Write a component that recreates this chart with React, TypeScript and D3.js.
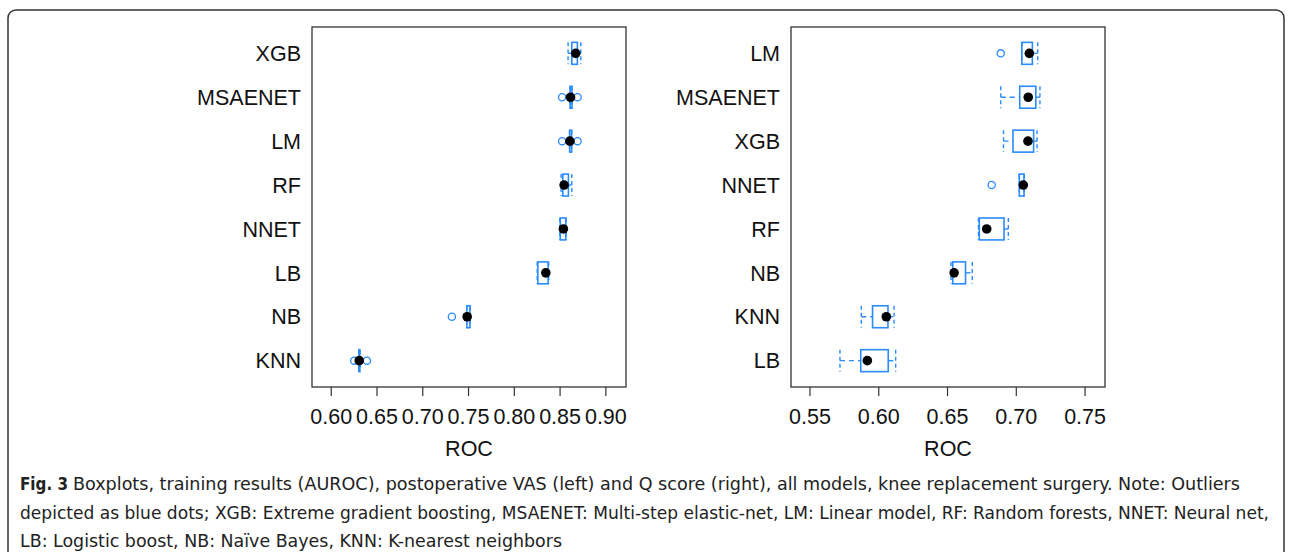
import React, { useEffect, useRef } from 'react';
import * as d3 from 'd3';

// Left panel: postoperative VAS (top to bottom)
const leftModels = ['XGB', 'MSAENET', 'LM', 'RF', 'NNET', 'LB', 'NB', 'KNN'];
const leftLow = [0.8587, 0.8608, 0.8603, 0.8511, 0.8497, 0.825, 0.748, 0.63];
const leftQ1 = [0.8628, 0.861, 0.8605, 0.853, 0.8502, 0.8257, 0.7482, 0.6302];
const leftMedian = [0.8671, 0.8614, 0.8607, 0.8544, 0.8536, 0.8344, 0.7485, 0.6306];
const leftQ3 = [0.8689, 0.863, 0.8625, 0.8591, 0.8562, 0.8369, 0.7515, 0.6312];
const leftHigh = [0.8726, 0.8632, 0.8628, 0.8628, 0.8566, 0.8375, 0.7517, 0.6315];
const leftOutliers = [[], [0.8522, 0.8691], [0.8522, 0.8691], [], [], [], [0.7318], [0.6251, 0.639]];
const leftTicks = [0.6, 0.65, 0.7, 0.75, 0.8, 0.85, 0.9];

// Right panel: Q score (top to bottom)
const rightModels = ['LM', 'MSAENET', 'XGB', 'NNET', 'RF', 'NB', 'KNN', 'LB'];
const rightLow = [0.704, 0.6887, 0.6907, 0.7022, 0.6725, 0.6525, 0.5873, 0.5718];
const rightQ1 = [0.704, 0.7025, 0.6976, 0.7022, 0.6731, 0.6538, 0.5955, 0.5869];
const rightMedian = [0.7095, 0.7087, 0.7085, 0.7051, 0.6785, 0.6548, 0.6055, 0.5917];
const rightQ3 = [0.7117, 0.7142, 0.7126, 0.7056, 0.6911, 0.6631, 0.6067, 0.6069];
const rightHigh = [0.7156, 0.7172, 0.7151, 0.7058, 0.6942, 0.668, 0.6111, 0.6123];
const rightOutliers = [[0.6887], [], [], [0.6821], [], [], [], []];
const rightTicks = [0.55, 0.6, 0.65, 0.7, 0.75];

const BLUE = '#2a8bff';
const FONT = '"Liberation Sans", Arial, sans-serif';

interface PanelSpec {
  models: string[];
  low: number[];
  q1: number[];
  median: number[];
  q3: number[];
  high: number[];
  outliers: number[][];
  ticks: number[];
  domain: [number, number];
  x0: number;
  x1: number;
}

const drawPanel = (svg: d3.Selection<SVGSVGElement, unknown, null, undefined>, p: PanelSpec) => {
  const top = 27;
  const bottom = 387;

  const x = d3.scaleLinear().domain(p.domain).range([p.x0, p.x1]);
  const y = d3.scalePoint<string>().domain(p.models).range([top, bottom]).padding(0.6);
  const boxH = y.step() * 0.5;

  const g = svg.append('g');

  // frame
  g.append('rect')
    .attr('x', p.x0).attr('y', top)
    .attr('width', p.x1 - p.x0).attr('height', bottom - top)
    .attr('fill', 'none').attr('stroke', '#333').attr('stroke-width', 1.3);

  // category labels
  g.selectAll('text.cat')
    .data(p.models)
    .join('text')
    .attr('class', 'cat')
    .attr('x', p.x0 - 11)
    .attr('y', (d) => y(d)!)
    .attr('dy', '0.36em')
    .attr('text-anchor', 'end')
    .attr('font-family', FONT)
    .attr('font-size', 21.5)
    .attr('fill', '#111')
    .text((d) => d);

  // x ticks
  const ticks = g.selectAll('g.tick').data(p.ticks).join('g').attr('class', 'tick');
  ticks.append('line')
    .attr('x1', (d) => x(d)).attr('x2', (d) => x(d))
    .attr('y1', bottom).attr('y2', bottom + 9)
    .attr('stroke', '#333').attr('stroke-width', 1.2);
  ticks.append('text')
    .attr('x', (d) => x(d))
    .attr('y', 416)
    .attr('dy', '0.36em')
    .attr('text-anchor', 'middle')
    .attr('font-family', FONT)
    .attr('font-size', 21.5)
    .attr('fill', '#111')
    .text((d) => d.toFixed(2));

  g.append('text')
    .attr('x', (p.x0 + p.x1) / 2)
    .attr('y', 448)
    .attr('dy', '0.36em')
    .attr('text-anchor', 'middle')
    .attr('font-family', FONT)
    .attr('font-size', 21.5)
    .attr('fill', '#111')
    .text('ROC');

  p.models.forEach((m, i) => {
    const cy = y(m)!;
    const b = g.append('g');

    // whiskers (dashed)
    b.append('line')
      .attr('x1', x(p.low[i])).attr('x2', x(p.q1[i]))
      .attr('y1', cy).attr('y2', cy)
      .attr('stroke', BLUE).attr('stroke-width', 1.4).attr('stroke-dasharray', '5,4');
    b.append('line')
      .attr('x1', x(p.q3[i])).attr('x2', x(p.high[i]))
      .attr('y1', cy).attr('y2', cy)
      .attr('stroke', BLUE).attr('stroke-width', 1.4).attr('stroke-dasharray', '5,4');
    [p.low[i], p.high[i]].forEach((v) => {
      b.append('line')
        .attr('x1', x(v)).attr('x2', x(v))
        .attr('y1', cy - boxH / 2).attr('y2', cy + boxH / 2)
        .attr('stroke', BLUE).attr('stroke-width', 1.4).attr('stroke-dasharray', '4,3');
    });

    // box
    b.append('rect')
      .attr('x', x(p.q1[i]))
      .attr('y', cy - boxH / 2)
      .attr('width', Math.max(0.5, x(p.q3[i]) - x(p.q1[i])))
      .attr('height', boxH)
      .attr('fill', 'none')
      .attr('stroke', BLUE)
      .attr('stroke-width', 1.6);

    // outliers
    b.selectAll('circle.out')
      .data(p.outliers[i])
      .join('circle')
      .attr('class', 'out')
      .attr('cx', (d) => x(d))
      .attr('cy', cy)
      .attr('r', 3.6)
      .attr('fill', 'none')
      .attr('stroke', BLUE)
      .attr('stroke-width', 1.3);

    // median dot
    b.append('circle')
      .attr('cx', x(p.median[i]))
      .attr('cy', cy)
      .attr('r', 4.8)
      .attr('fill', '#000');
  });
};

const App: React.FC = () => {
  const svgRef = useRef<SVGSVGElement>(null);

  useEffect(() => {
    if (!svgRef.current) return;
    const svg = d3.select(svgRef.current);
    svg.selectAll('*').remove();

    // outer figure frame
    svg.append('rect')
      .attr('x', 8).attr('y', 10)
      .attr('width', 1276).attr('height', 560)
      .attr('rx', 8)
      .attr('fill', 'none')
      .attr('stroke', '#333')
      .attr('stroke-width', 1.5);

    drawPanel(svg, {
      models: leftModels, low: leftLow, q1: leftQ1, median: leftMedian, q3: leftQ3,
      high: leftHigh, outliers: leftOutliers, ticks: leftTicks,
      domain: [0.579, 0.922], x0: 312, x1: 626,
    });
    drawPanel(svg, {
      models: rightModels, low: rightLow, q1: rightQ1, median: rightMedian, q3: rightQ3,
      high: rightHigh, outliers: rightOutliers, ticks: rightTicks,
      domain: [0.5362, 0.7645], x0: 791, x1: 1105,
    });

    // caption
    const capFont = '"Liberation Sans Narrow", "DejaVu Sans Condensed", "Open Sans", sans-serif';
    const cap = svg.append('g').attr('font-family', capFont).attr('font-size', 17).attr('fill', '#222');
    cap.append('text')
      .attr('x', 20).attr('y', 490)
      .attr('font-weight', 'bold')
      .attr('textLength', 48).attr('lengthAdjust', 'spacingAndGlyphs')
      .text('Fig. 3');
    cap.append('text')
      .attr('x', 73).attr('y', 490)
      .attr('textLength', 1167).attr('lengthAdjust', 'spacingAndGlyphs')
      .text('Boxplots, training results (AUROC), postoperative VAS (left) and Q score (right), all models, knee replacement surgery. Note: Outliers');
    cap.append('text')
      .attr('x', 20).attr('y', 519)
      .attr('textLength', 1249).attr('lengthAdjust', 'spacingAndGlyphs')
      .text('depicted as blue dots; XGB: Extreme gradient boosting, MSAENET: Multi-step elastic-net, LM: Linear model, RF: Random forests, NNET: Neural net,');
    cap.append('text')
      .attr('x', 20).attr('y', 547)
      .attr('textLength', 542).attr('lengthAdjust', 'spacingAndGlyphs')
      .text('LB: Logistic boost, NB: Naïve Bayes, KNN: K-nearest neighbors');
  }, []);

  return (
    <div style={{ position: 'fixed', left: 0, top: 0 }}>
      <svg ref={svgRef} width={1292} height={552} style={{ display: 'block', background: '#fff' }} />
    </div>
  );
};

export default App;
